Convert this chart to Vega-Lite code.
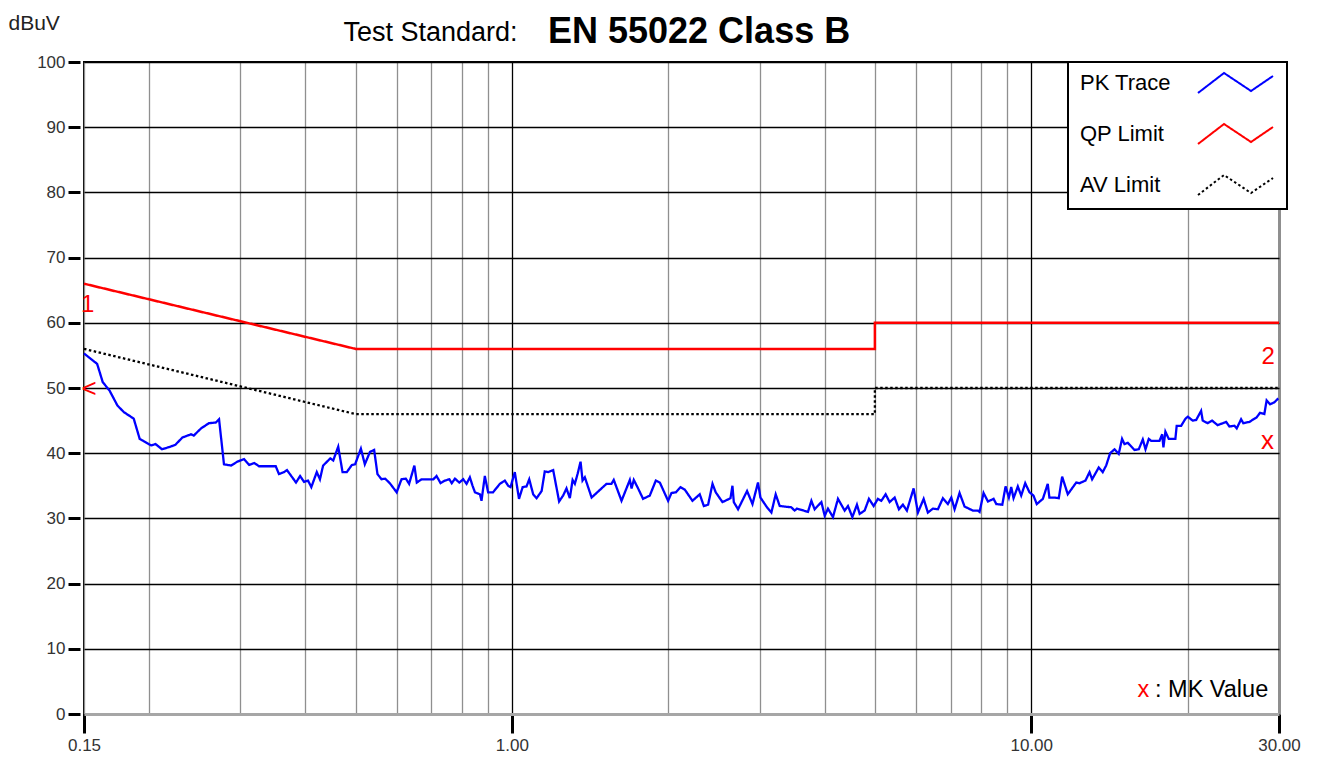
{
  "$schema": "https://vega.github.io/schema/vega-lite/v6.json",
  "width": 1195,
  "height": 652,
  "autosize": {"type": "none"},
  "padding": {"left": 84, "top": 62, "right": 38, "bottom": 44},
  "background": "white",
  "title": {"text": "EN 55022 Class B", "anchor": "start", "frame": "group", "dx": 464, "dy": 48, "offset": 9, "fontSize": 36, "fontWeight": "bold", "font": "Liberation Sans", "color": "black"},
  "config": {"view": {"stroke": "black", "strokeWidth": 2}, "font": "Liberation Sans", "legend": {"strokeWidth": 2}},
  "datasets": {
    "trace": [
      {"f":0.15,"v":55.3},{"f":0.159,"v":53.7},{"f":0.163,"v":50.9},{"f":0.168,"v":49.6},{"f":0.174,"v":47.3},{"f":0.179,"v":46.3},{"f":0.187,"v":45.3},{"f":0.192,"v":42.2},{"f":0.195,"v":41.9},{"f":0.202,"v":41.2},{"f":0.206,"v":41.4},{"f":0.212,"v":40.6},{"f":0.22,"v":41.0},{"f":0.225,"v":41.3},{"f":0.232,"v":42.4},{"f":0.241,"v":42.9},{"f":0.244,"v":42.7},{"f":0.252,"v":43.8},{"f":0.261,"v":44.6},{"f":0.269,"v":44.7},{"f":0.273,"v":45.2},{"f":0.279,"v":38.3},{"f":0.288,"v":38.1},{"f":0.296,"v":38.7},{"f":0.305,"v":39.1},{"f":0.312,"v":38.2},{"f":0.319,"v":38.5},{"f":0.326,"v":38.0},{"f":0.351,"v":38.0},{"f":0.356,"v":36.8},{"f":0.364,"v":37.1},{"f":0.369,"v":37.4},{"f":0.384,"v":35.5},{"f":0.391,"v":36.5},{"f":0.398,"v":35.6},{"f":0.405,"v":35.8},{"f":0.411,"v":34.8},
      {"f":0.421,"v":37.1},{"f":0.427,"v":36.0},{"f":0.433,"v":38.1},{"f":0.447,"v":39.2},{"f":0.453,"v":38.9},{"f":0.463,"v":41.0},{"f":0.472,"v":37.1},{"f":0.481,"v":37.1},{"f":0.492,"v":38.2},{"f":0.499,"v":38.3},{"f":0.512,"v":40.7},{"f":0.521,"v":38.3},{"f":0.533,"v":40.2},{"f":0.543,"v":40.5},{"f":0.551,"v":36.8},{"f":0.561,"v":36.0},{"f":0.57,"v":36.1},{"f":0.582,"v":35.4},{"f":0.6,"v":34.0},{"f":0.613,"v":36.0},{"f":0.625,"v":36.1},{"f":0.634,"v":35.3},{"f":0.649,"v":38.1},{"f":0.656,"v":35.5},{"f":0.67,"v":36.0},{"f":0.706,"v":36.0},{"f":0.716,"v":36.5},{"f":0.729,"v":35.4},{"f":0.743,"v":35.8},{"f":0.758,"v":36.0},{"f":0.766,"v":35.4},{"f":0.777,"v":36.1},{"f":0.792,"v":35.5},{"f":0.806,"v":36.0},{"f":0.818,"v":35.3},{"f":0.83,"v":36.3},{"f":0.84,"v":35.0},{"f":0.849,"v":34.0},{"f":0.868,"v":33.7},{"f":0.874,"v":32.7},{"f":0.887,"v":36.5},{"f":0.9,"v":34.0},{"f":0.92,"v":34.0},{"f":0.948,"v":35.3},{"f":0.969,"v":35.8},{"f":0.984,"v":35.0},{"f":0.994,"v":34.8},{"f":1.013,"v":37.1},{"f":1.032,"v":33.0},{"f":1.049,"v":34.8},{"f":1.067,"v":34.9},{"f":1.08,"v":36.0},
      {"f":1.099,"v":33.7},{"f":1.116,"v":33.1},{"f":1.141,"v":34.2},{"f":1.157,"v":37.2},{"f":1.174,"v":37.1},{"f":1.201,"v":37.4},{"f":1.233,"v":32.6},{"f":1.255,"v":33.5},{"f":1.274,"v":34.6},{"f":1.293,"v":33.1},{"f":1.309,"v":35.9},{"f":1.322,"v":35.3},{"f":1.338,"v":36.8},{"f":1.356,"v":38.7},{"f":1.368,"v":35.8},{"f":1.382,"v":36.3},{"f":1.424,"v":33.2},{"f":1.521,"v":35.3},{"f":1.555,"v":35.3},{"f":1.571,"v":35.9},{"f":1.626,"v":32.7},{"f":1.687,"v":35.9},{"f":1.7,"v":34.6},{"f":1.717,"v":35.9},{"f":1.75,"v":34.6},{"f":1.789,"v":33.0},{"f":1.843,"v":33.5},{"f":1.893,"v":35.8},{"f":1.927,"v":35.5},{"f":1.999,"v":32.7},{"f":2.029,"v":33.9},{"f":2.069,"v":34.0},{"f":2.112,"v":34.8},{"f":2.153,"v":34.4},{"f":2.227,"v":32.7},{"f":2.3,"v":33.7},{"f":2.342,"v":31.9},{"f":2.387,"v":32.1},{"f":2.434,"v":35.3},{"f":2.469,"v":34.0},{"f":2.544,"v":32.5},{"f":2.636,"v":33.1},{"f":2.659,"v":35.0},{"f":2.675,"v":32.5},{"f":2.726,"v":31.4},{"f":2.837,"v":34.2},{"f":2.906,"v":32.2},{"f":2.978,"v":35.5},{"f":3.01,"v":33.2},
      {"f":3.099,"v":31.7},{"f":3.16,"v":30.9},{"f":3.221,"v":33.7},{"f":3.279,"v":31.9},{"f":3.452,"v":31.7},{"f":3.503,"v":31.2},{"f":3.54,"v":31.5},{"f":3.716,"v":31.0},{"f":3.773,"v":32.7},{"f":3.828,"v":31.4},{"f":3.944,"v":32.5},{"f":4.003,"v":30.4},{"f":4.061,"v":31.5},{"f":4.152,"v":30.2},{"f":4.245,"v":33.0},{"f":4.373,"v":31.2},{"f":4.438,"v":31.9},{"f":4.525,"v":30.2},{"f":4.618,"v":32.1},{"f":4.674,"v":30.7},{"f":4.778,"v":31.2},{"f":4.87,"v":33.0},{"f":4.973,"v":31.9},{"f":5.068,"v":33.0},{"f":5.145,"v":32.7},{"f":5.244,"v":33.7},{"f":5.338,"v":32.5},{"f":5.458,"v":33.2},{"f":5.562,"v":31.4},{"f":5.662,"v":32.1},{"f":5.763,"v":31.2},{"f":5.937,"v":34.6},{"f":6.052,"v":30.9},{"f":6.207,"v":33.0},{"f":6.324,"v":30.9},{"f":6.467,"v":31.5},{"f":6.612,"v":31.4},{"f":6.76,"v":33.1},{"f":6.911,"v":32.2},{"f":7.017,"v":33.2},{"f":7.12,"v":31.4},{"f":7.278,"v":33.9},{"f":7.443,"v":31.8},{"f":7.585,"v":31.5},{"f":7.721,"v":31.2},{"f":7.894,"v":31.2},{"f":7.954,"v":31.0},{"f":8.096,"v":33.9},{"f":8.253,"v":32.6},{"f":8.464,"v":33.0},{"f":8.566,"v":32.2},{"f":8.797,"v":32.1},{"f":8.925,"v":34.9},{"f":9.057,"v":33.2},{"f":9.152,"v":34.8},{"f":9.246,"v":33.1},{"f":9.424,"v":34.9},{"f":9.566,"v":33.5},{"f":9.737,"v":35.4},{"f":9.924,"v":34.0},{"f":10.1,"v":33.5},
      {"f":10.25,"v":32.2},{"f":10.53,"v":33.0},{"f":10.76,"v":35.3},{"f":10.84,"v":33.2},{"f":11.09,"v":33.2},{"f":11.3,"v":33.1},{"f":11.47,"v":36.4},{"f":11.76,"v":33.7},{"f":12.21,"v":35.5},{"f":12.39,"v":35.4},{"f":12.72,"v":35.8},{"f":12.95,"v":37.1},{"f":13.1,"v":36.0},{"f":13.49,"v":37.8},{"f":13.73,"v":37.1},{"f":13.94,"v":38.1},{"f":14.19,"v":40.0},{"f":14.47,"v":40.6},{"f":14.74,"v":39.9},{"f":14.96,"v":42.2},{"f":15.12,"v":41.4},{"f":15.34,"v":41.6},{"f":15.81,"v":40.5},{"f":16.11,"v":40.6},{"f":16.4,"v":42.1},{"f":16.6,"v":40.6},{"f":16.84,"v":42.2},{"f":17.02,"v":41.9},{"f":17.66,"v":41.9},{"f":17.87,"v":42.9},{"f":17.97,"v":40.9},{"f":18.13,"v":43.3},{"f":18.4,"v":42.2},{"f":18.95,"v":42.2},{"f":19.06,"v":44.2},{"f":19.44,"v":44.2},{"f":19.82,"v":45.3},{"f":20.02,"v":45.6},{"f":20.46,"v":45.0},{"f":20.78,"v":45.1},{"f":21.24,"v":46.5},{"f":21.39,"v":45.0},{"f":21.87,"v":44.6},{"f":22.3,"v":45.0},{"f":22.86,"v":44.3},{"f":23.73,"v":44.8},{"f":24.08,"v":44.1},{"f":24.62,"v":44.2},{"f":24.87,"v":43.8},{"f":25.36,"v":45.2},{"f":25.61,"v":44.6},{"f":26.31,"v":44.8},{"f":27.17,"v":45.5},{"f":27.58,"v":46.2},{"f":28.11,"v":46.0},{"f":28.4,"v":48.1},{"f":28.84,"v":47.5},{"f":29.39,"v":47.8},{"f":29.9,"v":48.4}
    ],
    "qp": [{"f":0.15,"v":66},{"f":0.5,"v":56},{"f":5,"v":56},{"f":5,"v":60},{"f":30,"v":60}],
    "av": [{"f":0.15,"v":56},{"f":0.5,"v":46},{"f":5,"v":46},{"f":5,"v":50},{"f":30,"v":50}],
    "mknum": [{"t":"1","f":0.1525,"v":62.7},{"t":"2","f":28.6,"v":54.7}],
    "mkval": [{"t":"<","f":0.1535,"v":49.9},{"t":"x","f":28.5,"v":41.9}]
  },
  "layer": [
    {
      "data": {"name": "qp"},
      "mark": {"type": "line", "strokeWidth": 2.5},
      "encoding": {
        "x": {
          "field": "f", "type": "quantitative",
          "scale": {"type": "log", "domain": [0.15, 30], "nice": false},
          "axis": {
            "values": [0.15,0.2,0.3,0.4,0.5,0.6,0.7,0.8,0.9,1,2,3,4,5,6,7,8,9,10,20,30],
            "labelExpr": "datum.value == 0.15 ? '0.15' : datum.value == 1 ? '1.00' : datum.value == 10 ? '10.00' : datum.value == 30 ? '30.00' : ''",
            "title": "Test Standard:", "titleX": 346, "titleY": -682, "titleAlign": "center", "titleBaseline": "middle",
            "titleFontSize": 27, "titleFontWeight": "normal", "titleColor": "black", "titleFont": "Liberation Sans",
            "domainColor": "#a6a6a6", "domainWidth": 3,
            "tickSize": 19, "tickWidth": 3,
            "tickColor": {"condition": {"test": "indexof([0.15, 1, 10, 30], datum.value) >= 0", "value": "black"}, "value": "rgba(0,0,0,0)"},
            "labelFontSize": 17, "labelColor": "#333333", "labelPadding": 4, "labelFlush": false, "labelOverlap": false, "labelBound": false, "labelFont": "Liberation Sans",
            "grid": true,
            "gridColor": {"condition": {"test": "datum.value == 1 || datum.value == 10", "value": "black"}, "value": "#8f8f8f"},
            "gridWidth": {"condition": {"test": "datum.value == 30", "value": 3}, "value": 1.3}
          }
        },
        "y": {
          "field": "v", "type": "quantitative",
          "scale": {"domain": [0, 100], "nice": false, "zero": false},
          "axis": {
            "values": [0,10,20,30,40,50,60,70,80,90,100],
            "title": "dBuV", "titleAngle": 0, "titleAlign": "left", "titleBaseline": "middle", "titleX": -72, "titleY": -39,
            "titleFontSize": 21, "titleFontWeight": "normal", "titleColor": "#222222", "titleFont": "Liberation Sans",
            "domain": false, "offset": 4, "tickSize": 12, "tickWidth": 3, "tickColor": "black",
            "labelFontSize": 17, "labelColor": "#333333", "labelPadding": 3, "labelFont": "Liberation Sans",
            "grid": true, "gridColor": "black", "gridWidth": 1.3
          }
        },
        "color": {"datum": "QP Limit", "scale": {"domain": ["PK Trace", "QP Limit", "AV Limit"], "range": ["#0000ff", "#ff0000", "#000000"]},
          "legend": {"orient": "none", "legendX": 984, "legendY": 0, "title": null, "symbolType": "M-3.8,1L-1.2,-1L1.5,0.8L3.7,-0.7", "symbolSize": 400, "symbolStrokeWidth": 2, "symbolFillColor": "transparent", "symbolOffset": 147, "labelOffset": -167, "labelFontSize": 22, "labelFont": "Liberation Sans", "labelColor": "black", "labelLimit": 300, "rowPadding": 23, "padding": 10, "strokeColor": "black", "fillColor": "white"}},
        "strokeDash": {"datum": "QP Limit", "scale": {"domain": ["PK Trace", "QP Limit", "AV Limit"], "range": [[1, 0], [1, 0], [2.5, 2.5]]},
          "legend": {"orient": "none", "legendX": 984, "legendY": 0, "title": null, "symbolType": "M-3.8,1L-1.2,-1L1.5,0.8L3.7,-0.7", "symbolSize": 400, "symbolStrokeWidth": 2, "symbolFillColor": "transparent", "symbolOffset": 147, "labelOffset": -167, "labelFontSize": 22, "labelFont": "Liberation Sans", "labelColor": "black", "labelLimit": 300, "rowPadding": 23, "padding": 10, "strokeColor": "black", "fillColor": "white"}}
      }
    },
    {
      "data": {"name": "av"},
      "mark": {"type": "line", "strokeWidth": 2.3},
      "encoding": {
        "x": {"field": "f", "type": "quantitative"},
        "y": {"field": "v", "type": "quantitative"},
        "color": {"datum": "AV Limit"},
        "strokeDash": {"datum": "AV Limit"}
      }
    },
    {
      "data": {"name": "trace"},
      "mark": {"type": "line", "strokeWidth": 2.3},
      "encoding": {
        "x": {"field": "f", "type": "quantitative"},
        "y": {"field": "v", "type": "quantitative"},
        "color": {"datum": "PK Trace"},
        "strokeDash": {"datum": "PK Trace"}
      }
    },
    {
      "data": {"name": "mknum"},
      "mark": {"type": "text", "fontSize": 24, "color": "#ff0000", "align": "center", "baseline": "middle", "font": "Liberation Sans"},
      "encoding": {
        "x": {"field": "f", "type": "quantitative"},
        "y": {"field": "v", "type": "quantitative"},
        "text": {"field": "t"}
      }
    },
    {
      "data": {"name": "mkval"},
      "mark": {"type": "text", "fontSize": 26, "color": "#ff0000", "align": "center", "baseline": "middle", "font": "Liberation Sans"},
      "encoding": {
        "x": {"field": "f", "type": "quantitative"},
        "y": {"field": "v", "type": "quantitative"},
        "text": {"field": "t"}
      }
    },
    {
      "data": {"values": [{}]},
      "mark": {"type": "text", "fontSize": 23.5, "color": "black", "align": "right", "baseline": "middle", "font": "Liberation Sans", "text": ": MK Value"},
      "encoding": {"x": {"datum": 28.6}, "y": {"datum": 3.7}}
    },
    {
      "data": {"values": [{}]},
      "mark": {"type": "text", "fontSize": 23.5, "color": "#ff0000", "align": "center", "baseline": "middle", "font": "Liberation Sans", "text": "x"},
      "encoding": {"x": {"datum": 16.45}, "y": {"datum": 3.7}}
    }
  ]
}
